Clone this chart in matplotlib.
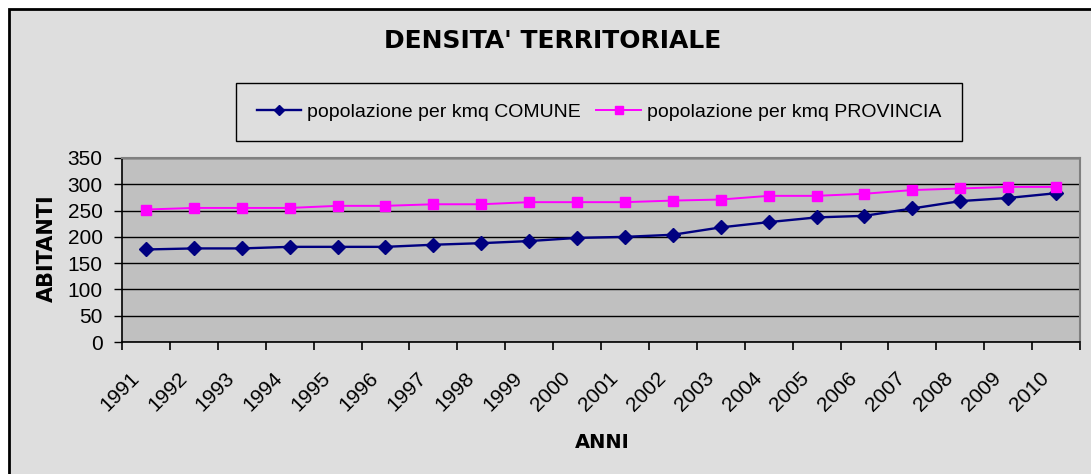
import matplotlib
matplotlib.use("Agg")
import matplotlib.pyplot as plt
import matplotlib.transforms as mtransforms
from matplotlib.patches import Rectangle

# data
anni = ["1991", "1992", "1993", "1994", "1995", "1996", "1997", "1998", "1999", "2000",
        "2001", "2002", "2003", "2004", "2005", "2006", "2007", "2008", "2009", "2010"]
comune = [176, 178, 178, 181, 181, 181, 185, 188, 192, 198,
          200, 204, 218, 228, 237, 240, 254, 268, 274, 283]
provincia = [252, 255, 255, 255, 259, 259, 262, 262, 266, 266,
             266, 269, 271, 278, 278, 282, 289, 292, 295, 295]
y_ticks = [0, 50, 100, 150, 200, 250, 300, 350]

W, H = 1091, 474
fig = plt.figure(figsize=(W / 100, H / 100), dpi=100)
fig.patch.set_facecolor("white")

# chart area background with border (cropped at right/bottom)
fig.patches.append(Rectangle((9 / W, -0.1), 1.2, 1 - 9 / H + 0.1, transform=fig.transFigure,
                             facecolor="#DEDEDE", edgecolor="black", lw=2, zorder=-10))

ax = fig.add_axes([122 / W, 1 - 342 / H, (1080 - 122) / W, (342 - 158) / H])
ax.set_facecolor("#C0C0C0")

x = list(range(len(anni)))
ax.plot(x, comune, color="#000080", lw=1.7, marker="D", ms=7, mfc="#000080", mec="#000080",
        label="popolazione per kmq COMUNE", zorder=3)
ax.plot(x, provincia, color="#FF00FF", lw=1.4, marker="s", ms=7.5, mfc="#FF00FF", mec="#FF00FF",
        label="popolazione per kmq PROVINCIA", zorder=3)

ax.set_xlim(-0.5, len(anni) - 0.5)
ax.set_ylim(0, 350)
ax.set_yticks(y_ticks)
ax.set_yticklabels([str(v) for v in y_ticks], fontsize=15, family="Liberation Sans")
ax.yaxis.grid(True, color="black", lw=1)
ax.set_axisbelow(True)

ax.set_xticks(x)
ax.set_xticklabels(anni, rotation=45, ha="right", va="center", rotation_mode="anchor",
                   fontsize=15, family="Liberation Sans")
ax.set_xticks([i - 0.5 for i in range(len(anni) + 1)], minor=True)
ax.tick_params(axis="x", which="major", length=0, pad=24)
ax.tick_params(axis="x", which="minor", length=6, width=1.2, direction="out", color="black")
ax.tick_params(axis="y", length=6, width=1, direction="out", color="black", pad=8)
offset = mtransforms.ScaledTranslation(-10 / 100, 0, fig.dpi_scale_trans)
for lab in ax.get_xticklabels():
    lab.set_transform(lab.get_transform() + offset)

for s in ["left", "bottom"]:
    ax.spines[s].set_color("black")
    ax.spines[s].set_linewidth(1.2)
for s in ["top", "right"]:
    ax.spines[s].set_color("#808080")
    ax.spines[s].set_linewidth(1.5)

fig.text(553 / W, 1 - 41 / H, "DENSITA' TERRITORIALE", ha="center", va="center",
         fontsize=18, fontweight="bold", family="DejaVu Sans")
fig.text(47 / W, 1 - 248 / H, "ABITANTI", rotation=90, ha="center", va="center",
         fontsize=15, fontweight="bold", family="DejaVu Sans")
fig.text(602 / W, 1 - 442 / H, "ANNI", ha="center", va="center",
         fontsize=14, fontweight="bold", family="DejaVu Sans")

leg = fig.legend(loc="center", bbox_to_anchor=(599 / W, 1 - 112 / H), ncol=2,
                 prop={"family": "Liberation Sans", "size": 14}, frameon=True, fancybox=False,
                 edgecolor="black", facecolor="#DEDEDE", framealpha=1, handlelength=2.3,
                 handletextpad=0.3, columnspacing=0.8, borderpad=1.05, borderaxespad=0,
                 markerscale=0.8)
leg.get_frame().set_linewidth(1)

fig.savefig("out.png", dpi=100)
